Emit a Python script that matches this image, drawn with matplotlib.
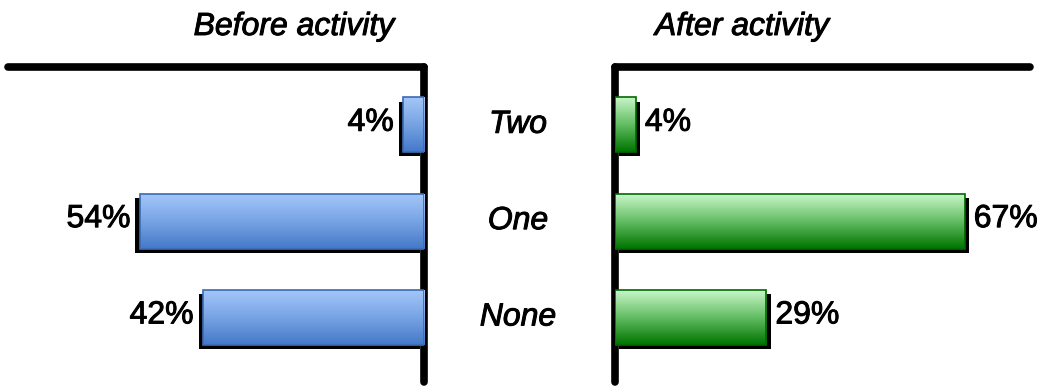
import numpy as np
import matplotlib
matplotlib.use("Agg")
import matplotlib.pyplot as plt
import matplotlib.patheffects as pe
import matplotlib.transforms as mtransforms
from matplotlib.colors import LinearSegmentedColormap

categories = ["Two", "One", "None"]
before_pct = [4, 54, 42]
after_pct = [4, 67, 29]
panel_titles = ["Before activity", "After activity"]

plt.rcParams["font.family"] = ["Liberation Sans", "DejaVu Sans"]

fig = plt.figure(figsize=(10.47, 3.86), dpi=100)
ax_l = fig.add_axes([8 / 1047, 4 / 386, 416 / 1047, 315 / 386])
ax_r = fig.add_axes([615 / 1047, 4 / 386, 415 / 1047, 315 / 386])

blue_cmap = LinearSegmentedColormap.from_list("blue_grad", ["#a3c6f8", "#77a3e4", "#4479c8"])
green_cmap = LinearSegmentedColormap.from_list("green_grad", ["#c8f5c8", "#62bd62", "#007400"])

# slightly heavier text rendering
text_fx = [pe.withStroke(linewidth=0.7, foreground="black")]
FS = 23

ypos = np.arange(len(categories))


def draw_panel(ax, values, cmap, edge, side):
    sign = -1 if side == "left" else 1
    bars = ax.barh(ypos, values, height=0.57, color=cmap(0.6), edgecolor="none", zorder=2)
    for b in bars:
        b.set_path_effects([pe.SimplePatchShadow(offset=(sign * 3, -3), shadow_rgbFace="black", alpha=1.0),
                            pe.Normal()])
        x0, y0, w, h = b.get_x(), b.get_y(), b.get_width(), b.get_height()
        grad = np.linspace(0, 1, 64).reshape(-1, 1)
        im = ax.imshow(grad, cmap=cmap, aspect="auto", extent=(x0, x0 + w, y0 + h, y0),
                       origin="upper", zorder=3, interpolation="bicubic")
        im.set_clip_path(b)
        ax.barh(b.get_y() + h / 2, w, left=x0, height=h, facecolor="none",
                edgecolor=edge, linewidth=1.2, zorder=4)
    for y, v in zip(ypos, values):
        ax.annotate(f"{v}%", xy=(v, y), xytext=(sign * 9, 2),
                    textcoords="offset pixels",
                    ha="left" if side == "right" else "right", va="center",
                    fontsize=FS, color="black", zorder=5, path_effects=text_fx)
    ax.set_ylim(2.67, -0.6)
    ax.set_xticks([])
    ax.set_yticks([])
    for s in ax.spines.values():
        s.set_visible(False)
    for name in (["top", "right"] if side == "left" else ["top", "left"]):
        sp = ax.spines[name]
        sp.set_visible(True)
        sp.set_linewidth(5.5)
        sp.set_color("black")
        sp.set_capstyle("round")
    ax.patch.set_alpha(0)


draw_panel(ax_l, before_pct, blue_cmap, "#3b6bb3", "left")
draw_panel(ax_r, after_pct, green_cmap, "#006a00", "right")
ax_l.set_xlim(79, 0)
ax_r.set_xlim(0, 79.5)

# category labels between the two panels
trans = mtransforms.blended_transform_factory(fig.transFigure, ax_l.transData)
for y, c in zip(ypos, categories):
    fig.text(518 / 1047, y, c, transform=trans, ha="center", va="center",
             fontsize=FS, fontstyle="italic", path_effects=text_fx)

fig.text(294 / 1047, 1 - 27 / 386, panel_titles[0], ha="center", va="center",
         fontsize=FS, fontstyle="italic", path_effects=text_fx)
fig.text(742 / 1047, 1 - 27 / 386, panel_titles[1], ha="center", va="center",
         fontsize=FS, fontstyle="italic", path_effects=text_fx)

fig.savefig("out.png", dpi=100)
